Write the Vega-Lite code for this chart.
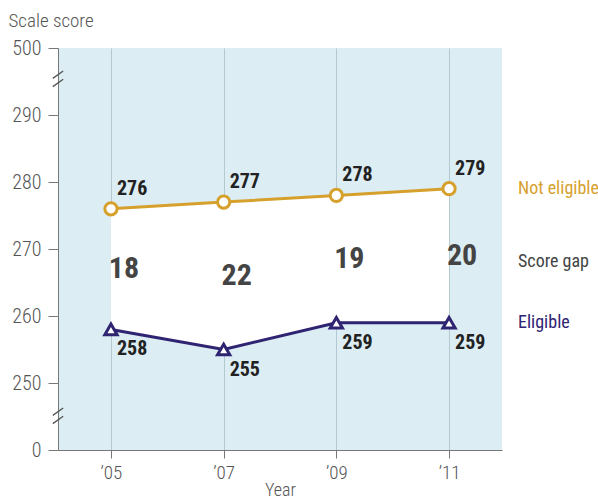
{
  "$schema": "https://vega.github.io/schema/vega-lite/v6.json",
  "width": 444,
  "height": 402,
  "autosize": {"type": "none"},
  "padding": {"left": 58, "top": 48, "right": 96, "bottom": 51},
  "background": "white",
  "config": {
    "view": {"fill": "#dcedf3", "stroke": null},
    "font": "Roboto Condensed, Roboto, sans-serif",
    "axis": {
      "domainColor": "#777777",
      "tickColor": "#777777",
      "labelColor": "#555555",
      "titleColor": "#555555",
      "labelFontSize": 20,
      "labelFontWeight": 300,
      "titleFontSize": 19,
      "titleFontWeight": 300,
      "labelFont": "Roboto Condensed, Roboto, sans-serif",
      "titleFont": "Roboto Condensed, Roboto, sans-serif"
    }
  },
  "datasets": {
    "scores": [
      {"year": 2005, "ne": 276, "el": 258, "gap": 18},
      {"year": 2007, "ne": 277, "el": 255, "gap": 22},
      {"year": 2009, "ne": 278, "el": 259, "gap": 19},
      {"year": 2011, "ne": 279, "el": 259, "gap": 20}
    ],
    "legend": [
      {"label": "Not eligible", "y": 279},
      {"label": "Score gap", "y": 268},
      {"label": "Eligible", "y": 259}
    ],
    "breaks": [
      {"x": 2004.06, "y": 295.4},
      {"x": 2004.06, "y": 245.1}
    ]
  },
  "layer": [
    {
      "data": {"name": "scores"},
      "mark": {"type": "area", "color": "white", "opacity": 1},
      "encoding": {
        "x": {
          "field": "year", "type": "quantitative",
          "scale": {"domain": [2004.06, 2011.94], "nice": false, "zero": false},
          "axis": {
            "values": [2005, 2007, 2009, 2011],
            "labelExpr": "'\u2019' + substring(toString(datum.value), 2)",
            "grid": true, "gridColor": "#b3c8cf", "gridWidth": 1,
            "tickSize": 8, "labelPadding": 5, "labelFontSize": 19,
            "title": "Year", "titlePadding": -1, "titleFontSize": 18
          }
        },
        "y": {
          "field": "ne", "type": "quantitative",
          "scale": {"domain": [240, 300], "nice": false, "zero": false},
          "axis": {
            "values": [240, 250, 260, 270, 280, 290, 300],
            "labelExpr": "datum.value == 240 ? '0' : datum.value == 300 ? '500' : datum.label",
            "grid": false, "tickSize": 10, "labelPadding": 7,
            "title": "Scale score", "titleAngle": 0, "titleAlign": "left",
            "titleBaseline": "middle", "titleX": -50, "titleY": -28
          }
        },
        "y2": {"field": "el"}
      }
    },
    {
      "data": {"name": "scores"},
      "mark": {"type": "line", "color": "#d6a02c", "strokeWidth": 3},
      "encoding": {
        "x": {"field": "year", "type": "quantitative"},
        "y": {"field": "ne", "type": "quantitative"}
      }
    },
    {
      "data": {"name": "scores"},
      "mark": {"type": "line", "color": "#2e2472", "strokeWidth": 3},
      "encoding": {
        "x": {"field": "year", "type": "quantitative"},
        "y": {"field": "el", "type": "quantitative"}
      }
    },
    {
      "data": {"name": "scores"},
      "mark": {"type": "point", "shape": "circle", "filled": true, "fill": "white", "stroke": "#d6a02c", "strokeWidth": 3, "size": 150, "opacity": 1},
      "encoding": {
        "x": {"field": "year", "type": "quantitative"},
        "y": {"field": "ne", "type": "quantitative"}
      }
    },
    {
      "data": {"name": "scores"},
      "mark": {"type": "point", "shape": "triangle-up", "filled": true, "fill": "white", "stroke": "#2e2472", "strokeWidth": 3, "size": 150, "opacity": 1},
      "encoding": {
        "x": {"field": "year", "type": "quantitative"},
        "y": {"field": "el", "type": "quantitative"}
      }
    },
    {
      "data": {"name": "scores"},
      "mark": {"type": "text", "align": "left", "baseline": "middle", "dx": 6, "dy": -20, "fontSize": 20, "fontWeight": "bold", "color": "#222222"},
      "encoding": {
        "x": {"field": "year", "type": "quantitative"},
        "y": {"field": "ne", "type": "quantitative"},
        "text": {"field": "ne"}
      }
    },
    {
      "data": {"name": "scores"},
      "mark": {"type": "text", "align": "left", "baseline": "middle", "dx": 6, "dy": 20, "fontSize": 20, "fontWeight": "bold", "color": "#222222"},
      "encoding": {
        "x": {"field": "year", "type": "quantitative"},
        "y": {"field": "el", "type": "quantitative"},
        "text": {"field": "el"}
      }
    },
    {
      "data": {"name": "scores"},
      "transform": [{"calculate": "(datum.ne + datum.el) / 2", "as": "mid"}],
      "mark": {"type": "text", "align": "center", "baseline": "middle", "dx": 13, "fontSize": 30, "fontWeight": "bold", "color": "#444444"},
      "encoding": {
        "x": {"field": "year", "type": "quantitative"},
        "y": {"field": "mid", "type": "quantitative"},
        "text": {"field": "gap"}
      }
    },
    {
      "data": {"name": "legend"},
      "mark": {"type": "text", "align": "left", "baseline": "middle", "dx": 69, "fontSize": 18, "fontWeight": "normal"},
      "encoding": {
        "x": {"datum": 2011, "type": "quantitative"},
        "y": {"field": "y", "type": "quantitative"},
        "text": {"field": "label"},
        "color": {
          "field": "label", "type": "nominal", "legend": null,
          "scale": {"domain": ["Not eligible", "Score gap", "Eligible"], "range": ["#d6a02c", "#444444", "#2e2472"]}
        }
      }
    },
    {
      "data": {"name": "breaks"},
      "mark": {"type": "point", "shape": "M-0.6,-0.05L0.6,-0.9M-0.6,0.9L0.6,0.05", "filled": false, "stroke": "#555555", "strokeWidth": 1.3, "size": 300, "opacity": 1},
      "encoding": {
        "x": {"field": "x", "type": "quantitative"},
        "y": {"field": "y", "type": "quantitative"}
      }
    }
  ]
}
